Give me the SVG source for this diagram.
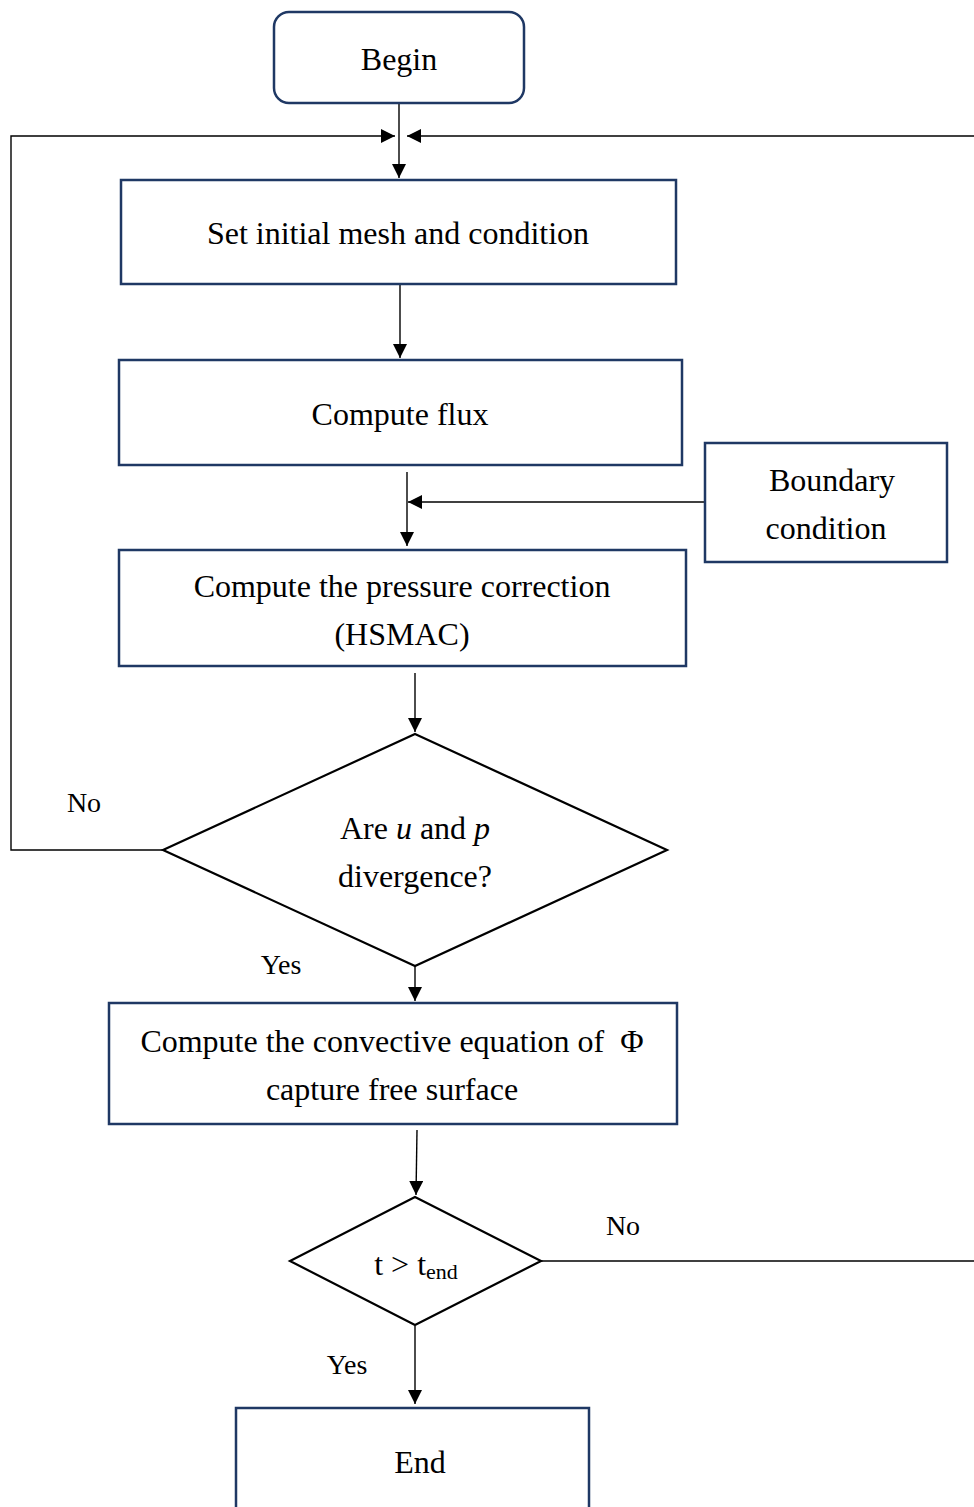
<svg xmlns="http://www.w3.org/2000/svg" width="974" height="1507" viewBox="0 0 974 1507">
<defs>
<marker id="ah" viewBox="0 0 10 10" refX="10" refY="5" markerWidth="14" markerHeight="14" markerUnits="userSpaceOnUse" orient="auto">
<path d="M0,0 L10,5 L0,10 Z" fill="#000"/>
</marker>
</defs>
<style>
.box{fill:#fff;stroke:#1F3864;stroke-width:2.5}
.dia{fill:#fff;stroke:#000;stroke-width:2.2}
.ln{fill:none;stroke:#000;stroke-width:1.4}
.t{font-family:"Liberation Serif","Times New Roman",serif;font-size:32px;fill:#000;text-anchor:middle}
.s{font-family:"Liberation Serif","Times New Roman",serif;font-size:28px;fill:#000;text-anchor:middle}
</style>
<rect width="974" height="1507" fill="#fff"/>
<g id="connectors">
<line class="ln" x1="399" y1="103" x2="399" y2="178" marker-end="url(#ah)"/>
<polyline class="ln" points="163,850 11,850 11,136 395,136" marker-end="url(#ah)"/>
<polyline class="ln" points="974,136 407,136" marker-end="url(#ah)"/>
<line class="ln" x1="400" y1="285" x2="400" y2="358" marker-end="url(#ah)"/>
<line class="ln" x1="407" y1="472" x2="407" y2="546" marker-end="url(#ah)"/>
<line class="ln" x1="705" y1="502" x2="408" y2="502" marker-end="url(#ah)"/>
<line class="ln" x1="415" y1="673" x2="415" y2="732" marker-end="url(#ah)"/>
<line class="ln" x1="415" y1="966" x2="415" y2="1001" marker-end="url(#ah)"/>
<line class="ln" x1="417" y1="1130" x2="416" y2="1195" marker-end="url(#ah)"/>
<polyline class="ln" points="541,1261 974,1261"/>
<line class="ln" x1="415" y1="1326" x2="415" y2="1404" marker-end="url(#ah)"/>
<text class="s" x="84" y="812">No</text>
<text class="s" x="281" y="974">Yes</text>
<text class="s" x="623" y="1235">No</text>
<text class="s" x="347" y="1374">Yes</text>
</g>
<g id="begin">
<rect class="box" x="274" y="12" width="250" height="91" rx="15"/>
<text class="t" x="399" y="70">Begin</text>
</g>
<g id="init">
<rect class="box" x="121" y="180" width="555" height="104"/>
<text class="t" x="398" y="244">Set initial mesh and condition</text>
</g>
<g id="flux">
<rect class="box" x="119" y="360" width="563" height="105"/>
<text class="t" x="400" y="425">Compute flux</text>
</g>
<g id="boundary">
<rect class="box" x="705" y="443" width="242" height="119"/>
<text class="t" x="832" y="491">Boundary</text>
<text class="t" x="826" y="539">condition</text>
</g>
<g id="pressure">
<rect class="box" x="119" y="550" width="567" height="116"/>
<text class="t" x="402" y="597">Compute the pressure correction</text>
<text class="t" x="402" y="645">(HSMAC)</text>
</g>
<g id="divergence">
<polygon class="dia" points="415,734 667,850 415,966 163,850"/>
<text class="t" x="415" y="839">Are <tspan font-style="italic">u</tspan> and <tspan font-style="italic">p</tspan></text>
<text class="t" x="415" y="887">divergence?</text>
</g>
<g id="convective">
<rect class="box" x="109" y="1003" width="568" height="121"/>
<text class="t" x="392" y="1052">Compute the convective equation of &#160;Φ</text>
<text class="t" x="392" y="1100">capture free surface</text>
</g>
<g id="time">
<polygon class="dia" points="415,1197 541,1261 415,1325 290,1261"/>
<text class="t" x="416" y="1275">t &gt; t<tspan font-size="22" dy="4">end</tspan></text>
</g>
<g id="end">
<rect class="box" x="236" y="1408" width="353" height="120"/>
<text class="t" x="420" y="1473">End</text>
</g>
</svg>
